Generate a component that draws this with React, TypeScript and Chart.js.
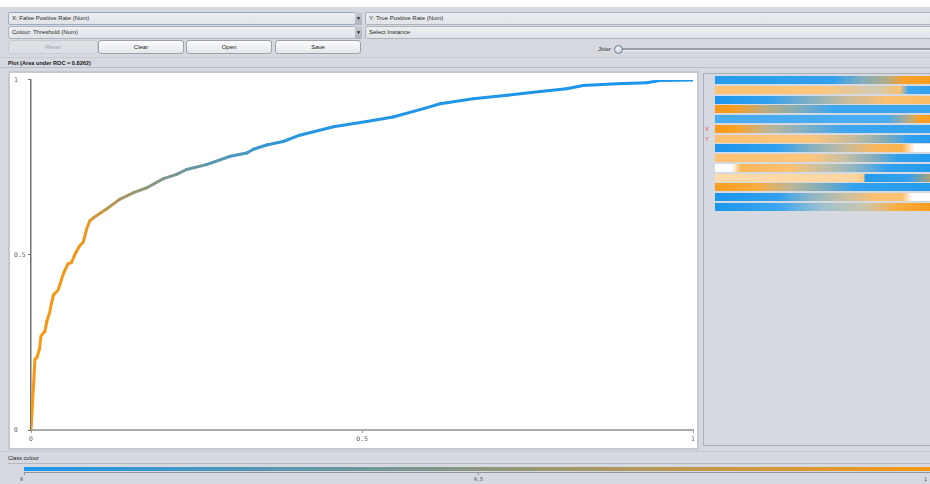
import React, { useEffect, useRef } from "react";
import { Chart, registerables } from "chart.js";

Chart.register(...registerables);

// ROC curve: false positive rate (x), true positive rate (y), threshold (colour)
const FPR = [
  0, 0.002, 0.006, 0.009, 0.013, 0.015, 0.021, 0.024, 0.028, 0.031, 0.034, 0.041,
  0.046, 0.049, 0.056, 0.061, 0.068, 0.074, 0.079, 0.084, 0.089, 0.095, 0.114,
  0.134, 0.155, 0.175, 0.2, 0.22, 0.235, 0.265, 0.301, 0.326, 0.336, 0.356, 0.381,
  0.406, 0.457, 0.507, 0.547, 0.593, 0.618, 0.668, 0.719, 0.759, 0.809, 0.834,
  0.885, 0.93, 0.95, 1.0,
];
const TPR = [
  0, 0.066, 0.203, 0.207, 0.232, 0.268, 0.282, 0.311, 0.334, 0.362, 0.386, 0.4,
  0.429, 0.447, 0.475, 0.478, 0.508, 0.527, 0.537, 0.574, 0.598, 0.607, 0.631,
  0.659, 0.678, 0.692, 0.718, 0.73, 0.744, 0.758, 0.782, 0.791, 0.802, 0.814,
  0.824, 0.842, 0.866, 0.881, 0.894, 0.918, 0.932, 0.946, 0.956, 0.965, 0.975,
  0.984, 0.989, 0.992, 0.998, 1.0,
];
const THRESHOLD = [
  1.0, 1.0, 1.0, 1.0, 0.99, 0.99, 0.99, 0.98, 0.98, 0.98, 0.97, 0.97, 0.97, 0.96,
  0.96, 0.95, 0.95, 0.94, 0.93, 0.92, 0.9, 0.86, 0.74, 0.64, 0.57, 0.52, 0.46, 0.41,
  0.37, 0.31, 0.24, 0.19, 0.16, 0.12, 0.09, 0.06, 0.045, 0.035, 0.03, 0.025, 0.02,
  0.016, 0.012, 0.009, 0.007, 0.005, 0.003, 0.002, 0.001, 0,
];
const X_TICKS = [0, 0.5, 1];
const Y_TICKS = [0, 0.5, 1];
const CLASS_TICKS = ["0", "0.5", "1"];
const PLOT_TITLE = "Plot (Area under ROC = 0.8262)";

// attribute strips on the right: [position, colour key, density]
const STRIPS: [number, string, number][][] = [
  [[0, "B", 0.95], [0.55, "B", 0.9], [0.68, "T", 0.8], [0.8, "M", 0.8], [0.88, "O", 0.9], [1, "O", 0.95]],
  [[0, "O", 0.6], [0.5, "O", 0.55], [0.75, "M", 0.5], [0.86, "O", 0.6], [0.9, "B", 0.85], [1, "B", 0.9]],
  [[0, "B", 1], [0.25, "B", 0.9], [0.45, "T", 0.75], [0.6, "M", 0.65], [0.8, "O", 0.6], [1, "O", 0.65]],
  [[0, "O", 1], [0.08, "O", 0.95], [0.25, "M", 0.8], [0.4, "T", 0.8], [0.55, "B", 0.85], [1, "B", 0.85]],
  [[0, "B", 0.8], [0.8, "B", 0.8], [0.9, "M", 0.8], [0.95, "O", 0.9], [1, "O", 0.95]],
  [[0, "O", 1], [0.1, "O", 0.9], [0.25, "M", 0.7], [0.4, "T", 0.75], [0.6, "B", 0.85], [1, "B", 0.9]],
  [[0, "O", 0.6], [0.45, "O", 0.55], [0.65, "M", 0.65], [0.8, "T", 0.8], [0.9, "B", 0.9], [1, "B", 0.95]],
  [[0, "B", 1], [0.3, "B", 0.9], [0.45, "T", 0.75], [0.6, "M", 0.65], [0.75, "O", 0.7], [0.87, "O", 0.75], [0.93, "W", 1], [1, "W", 1]],
  [[0, "O", 0.6], [0.45, "O", 0.55], [0.6, "M", 0.6], [0.75, "T", 0.8], [0.85, "B", 0.9], [1, "B", 0.95]],
  [[0, "W", 1], [0.08, "W", 1], [0.12, "O", 0.7], [0.35, "O", 0.6], [0.5, "M", 0.6], [0.65, "T", 0.7], [0.8, "B", 0.9], [1, "B", 0.95]],
  [[0, "O", 0.35], [0.65, "O", 0.4], [0.69, "O", 0.5], [0.7, "B", 0.95], [0.9, "B", 0.9], [1, "M", 0.9]],
  [[0, "O", 0.95], [0.2, "O", 0.8], [0.35, "M", 0.7], [0.5, "T", 0.8], [0.65, "B", 0.9], [1, "B", 0.95]],
  [[0, "B", 1], [0.3, "B", 0.9], [0.45, "T", 0.7], [0.6, "M", 0.6], [0.75, "O", 0.6], [0.87, "O", 0.6], [0.92, "W", 1], [1, "W", 1]],
  [[0, "B", 1], [0.3, "B", 0.85], [0.5, "T", 0.6], [0.7, "M", 0.55], [0.85, "O", 0.8], [1, "O", 0.95]],
];

const BLUE = [27, 150, 236];
const ORANGE = [250, 152, 18];

function mixRGB(t: number): number[] {
  return BLUE.map((b, i) => Math.round(b + (ORANGE[i] - b) * t));
}
function mix(t: number, a = 1): string {
  const c = mixRGB(t);
  return `rgba(${c[0]},${c[1]},${c[2]},${a})`;
}
const KEY_T: Record<string, number> = { B: 0, T: 0.3, M: 0.6, O: 1 };
function stripCss(stops: [number, string, number][]): string {
  const parts = stops.map(([p, k, d]) => {
    let col = "rgb(255,255,255)";
    if (k !== "W") {
      const c = mixRGB(KEY_T[k]);
      const r = c.map((v) => Math.round(255 + (v - 255) * d));
      col = `rgb(${r[0]},${r[1]},${r[2]})`;
    }
    return `${col} ${(p * 100).toFixed(1)}%`;
  });
  return `linear-gradient(to right, ${parts.join(", ")})`;
}

const UI_FONT = "'Liberation Sans', Arial, sans-serif";
const BG = "#d6d9df";

const comboStyle = (left: number, top: number, width: number, focus = false): React.CSSProperties => ({
  position: "absolute",
  left,
  top,
  width,
  height: 11,
  background: "linear-gradient(#eceef1, #e0e3e8)",
  border: `1px solid ${focus ? "#98acc4" : "#aeb3bb"}`,
  borderRadius: 2,
  fontFamily: UI_FONT,
  fontSize: 6,
  color: "#2a2a2a",
  lineHeight: "11px",
  paddingLeft: 3,
  boxSizing: "content-box",
  whiteSpace: "nowrap",
  overflow: "hidden",
});

const btnStyle = (left: number, width: number, disabled = false): React.CSSProperties => ({
  position: "absolute",
  left,
  top: 40,
  width,
  height: 12,
  background: disabled ? "#dcdfe4" : "linear-gradient(#fbfbfc, #e4e7eb)",
  border: `1px solid ${disabled ? "#c8ccd2" : "#9ca2aa"}`,
  borderRadius: 3,
  fontFamily: UI_FONT,
  fontSize: 6,
  color: disabled ? "#a4a8ae" : "#222",
  lineHeight: "12px",
  textAlign: "center",
});

const tickLabel = (v: any) => String(Number(v));

export default function App() {
  const canvasRef = useRef<HTMLCanvasElement | null>(null);

  useEffect(() => {
    document.body.style.margin = "0";
    const canvas = canvasRef.current;
    if (!canvas) return;
    const chart = new Chart(canvas, {
      type: "line",
      data: {
        datasets: [
          {
            data: FPR.map((x, i) => ({ x, y: TPR[i] })),
            borderWidth: 3,
            pointRadius: 0,
            borderColor: mix(1),
            tension: 0,
            borderJoinStyle: "round",
            borderCapStyle: "round",
            segment: {
              borderColor: (c: any) =>
                mix((THRESHOLD[c.p0DataIndex] + THRESHOLD[c.p1DataIndex]) / 2),
            },
          } as any,
        ],
      },
      options: {
        animation: false,
        responsive: false,
        maintainAspectRatio: false,
        layout: { padding: { left: 4, right: 4, top: 3, bottom: 0 } },
        plugins: { legend: { display: false }, tooltip: { enabled: false } },
        scales: {
          x: {
            type: "linear",
            min: 0,
            max: 1,
            afterBuildTicks: (s: any) => {
              s.ticks = X_TICKS.map((v) => ({ value: v }));
            },
            afterFit: (s: any) => {
              s.height = 18;
            },
            grid: { drawOnChartArea: false, tickLength: 3, color: "#999" },
            border: { color: "#aaaaaa", width: 2 },
            ticks: {
              font: { family: "'DejaVu Sans Mono', monospace", size: 6.5 },
              color: "#666",
              padding: 2,
              maxRotation: 0,
              autoSkip: false,
              callback: tickLabel,
            },
          },
          y: {
            type: "linear",
            min: 0,
            max: 1,
            afterBuildTicks: (s: any) => {
              s.ticks = Y_TICKS.map((v) => ({ value: v }));
            },
            afterFit: (s: any) => {
              s.width = 17;
            },
            grid: { drawOnChartArea: false, tickLength: 3, color: "#777" },
            border: { color: "#707070", width: 1.5 },
            ticks: {
              font: { family: "'DejaVu Sans Mono', monospace", size: 6.5 },
              color: "#666",
              padding: 3,
              crossAlign: "far",
              autoSkip: false,
              callback: tickLabel,
            },
          },
        },
      } as any,
    });
    return () => chart.destroy();
  }, []);

  const stripLeft = 715;
  const stripWidth = 215;

  return (
    <div
      style={{
        position: "fixed",
        left: 0,
        top: 0,
        width: 930,
        height: 484,
        background: BG,
        overflow: "hidden",
        fontFamily: UI_FONT,
      }}
    >
      <div style={{ position: "absolute", left: 0, top: 0, width: 930, height: 7, background: "#ffffff" }} />

      {/* Combo boxes */}
      <div style={comboStyle(8, 12, 343, true)}>X: False Positive Rate (Num)</div>
      <div
        style={{
          position: "absolute", left: 355, top: 12, width: 7, height: 13,
          background: "linear-gradient(#c8ccd3, #aeb3bb)", borderRadius: 1,
          fontSize: 5, lineHeight: "13px", textAlign: "center", color: "#111",
        }}
      >▼</div>
      <div style={comboStyle(365, 12, 570)}>Y: True Positive Rate (Num)</div>
      <div style={comboStyle(8, 26, 343)}>Colour: Threshold (Num)</div>
      <div
        style={{
          position: "absolute", left: 355, top: 26, width: 7, height: 13,
          background: "linear-gradient(#c8ccd3, #aeb3bb)", borderRadius: 1,
          fontSize: 5, lineHeight: "13px", textAlign: "center", color: "#111",
        }}
      >▼</div>
      <div style={comboStyle(365, 26, 570)}>Select Instance</div>

      {/* Buttons */}
      <div style={btnStyle(8, 88, true)}>Reset</div>
      <div style={btnStyle(98, 84)}>Clear</div>
      <div style={btnStyle(186, 84)}>Open</div>
      <div style={btnStyle(275, 84)}>Save</div>

      {/* Jitter slider */}
      <div style={{ position: "absolute", left: 598, top: 45, fontSize: 6, color: "#333", lineHeight: "8px" }}>Jitter</div>
      <div style={{ position: "absolute", left: 622, top: 48, width: 310, height: 2, background: "#9a9fa6", borderBottom: "1px solid #eef0f3" }} />
      <div
        style={{
          position: "absolute", left: 614, top: 45, width: 7, height: 7, borderRadius: "50%",
          background: "radial-gradient(circle at 40% 35%, #f4f7fa, #b3c2d2)", border: "1px solid #6f7f90",
        }}
      />

      {/* separator */}
      <div style={{ position: "absolute", left: 0, top: 57, width: 930, height: 1, background: "#c8ccd2" }} />

      {/* Plot title */}
      <div
        style={{
          position: "absolute", left: 8, top: 60, fontSize: 5.6, fontWeight: "bold",
          color: "#1a1a1a", lineHeight: "7px", whiteSpace: "nowrap",
        }}
      >{PLOT_TITLE}</div>
      <div style={{ position: "absolute", left: 0, top: 67, width: 930, height: 1, background: "#b9bdc4" }} />

      {/* Plot panel */}
      <div style={{ position: "absolute", left: 8, top: 71, width: 691, height: 379, background: "#c4c8cf" }} />
      <div style={{ position: "absolute", left: 10, top: 73, width: 687, height: 375, background: "#ffffff" }} />
      <canvas
        ref={canvasRef}
        width={687}
        height={375}
        style={{ position: "absolute", left: 10, top: 73, width: 687, height: 375 }}
      />

      {/* Attribute panel */}
      <div
        style={{
          position: "absolute", left: 703, top: 73, width: 240, height: 373,
          border: "1px solid #aab0b8", background: BG, boxSizing: "border-box",
        }}
      />
      {STRIPS.map((s, i) => (
        <div
          key={i}
          style={{
            position: "absolute",
            left: stripLeft,
            top: 76 + i * 9.77,
            width: stripWidth,
            height: 8,
            background: stripCss(s),
          }}
        />
      ))}
      <div style={{ position: "absolute", left: 705, top: 126, fontSize: 6, color: "#e0575a", lineHeight: "7px" }}>X</div>
      <div style={{ position: "absolute", left: 705, top: 136, fontSize: 6, color: "#e0575a", lineHeight: "7px" }}>Y</div>

      {/* Class colour */}
      <div style={{ position: "absolute", left: 0, top: 451, width: 930, height: 1, background: "#c4c8cf" }} />
      <div style={{ position: "absolute", left: 8, top: 455, fontSize: 5.6, color: "#222", lineHeight: "7px" }}>Class colour</div>
      <div style={{ position: "absolute", left: 8, top: 463, width: 930, height: 1, background: "#b4b9c0" }} />
      <div
        style={{
          position: "absolute", left: 24, top: 467, width: 908, height: 4,
          background: `linear-gradient(to right, ${mix(0)}, ${mix(0.5)}, ${mix(1)})`,
        }}
      />
      <div style={{ position: "absolute", left: 24, top: 472, width: 908, height: 1, background: "#8f949b" }} />
      <div style={{ position: "absolute", left: 24, top: 472, width: 1, height: 3, background: "#8f949b" }} />
      <div style={{ position: "absolute", left: 478, top: 472, width: 1, height: 3, background: "#8f949b" }} />
      <div style={{ position: "absolute", left: 20, top: 476, fontSize: 5, fontFamily: "'DejaVu Sans Mono', monospace", color: "#444", lineHeight: "7px" }}>{CLASS_TICKS[0]}</div>
      <div style={{ position: "absolute", left: 474, top: 476, fontSize: 5, fontFamily: "'DejaVu Sans Mono', monospace", color: "#444", lineHeight: "7px" }}>{CLASS_TICKS[1]}</div>
      <div style={{ position: "absolute", left: 924, top: 476, fontSize: 5, fontFamily: "'DejaVu Sans Mono', monospace", color: "#444", lineHeight: "7px" }}>{CLASS_TICKS[2]}</div>
    </div>
  );
}
